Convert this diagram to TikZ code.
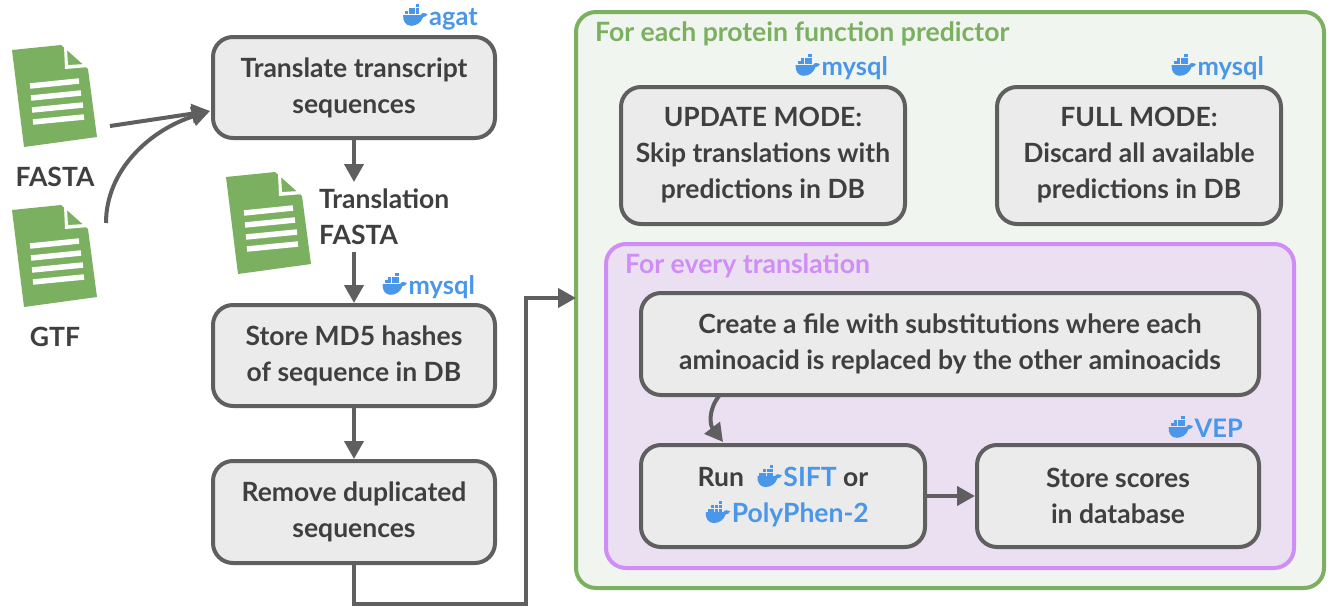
\documentclass[tikz,border=0pt]{standalone}
\usepackage{fontspec}
\setmainfont{Lato}
\usetikzlibrary{arrows.meta}
\definecolor{boxfill}{HTML}{EBEBEB}
\definecolor{boxline}{HTML}{5F5F5F}
\definecolor{txt}{HTML}{3F3F3F}
\definecolor{dblue}{HTML}{4A96E8}
\definecolor{gline}{HTML}{7AB060}
\definecolor{gbg}{HTML}{F1F5EF}
\definecolor{pline}{HTML}{CF8DF5}
\definecolor{pbg}{HTML}{EAE0F2}
\newcommand{\whale}{\tikz[x=1pt,y=1pt,baseline=0pt,line width=0pt,sharp corners]{%
 \fill[dblue] (0,10) -- (17.5,10) .. controls (18.5,12.5) and (22,12.5) .. (24.5,11) .. controls (23.5,8.5) and (21.5,8) .. (20,8)
   .. controls (18,2) and (13,-0.8) .. (8,-0.8) .. controls (2.5,-0.8) and (-0.5,4) .. (0,10) -- cycle;
 \foreach \a/\b in {2/10.6,5.6/10.6,9.2/10.6,12.8/10.6,5.6/14.2,9.2/14.2,12.8/14.2,12.8/17.8}
   \fill[dblue] (\a,\b) rectangle ++(3.1,3.1);
}\hspace{1.5pt}}
\newcommand{\dk}[1]{\whale{\color{dblue}#1}}
\tikzset{
 every node/.style={font=\fontsize{26.5}{36}\selectfont\bfseries, text=txt, align=center, inner sep=0pt},
 procbox/.style={draw=boxline, fill=boxfill, line width=4pt, rounded corners=20pt, minimum width=#1, anchor=north west},
 procbox/.default=282pt,
 flow/.style={draw=boxline, line width=4pt, -{Triangle[length=18pt,width=19pt]}},
 tag/.style={font=\fontsize{25.5}{28}\selectfont\bfseries, anchor=base east},
 grouptitle/.style={font=\fontsize{26.6}{28}\selectfont\bfseries, anchor=base west},
 pics/docicon/.style={code={
  \fill[gline] (12,50) -- (61,45) -- (88,69) -- (97,137) -- (24,147) -- cycle;
  \fill[white] (64,46) -- (65,69) -- (89,67) -- (86,64) -- (68,65) -- (67,49) -- cycle;
  \draw[white,line width=5.5pt] (30,86) -- (79,81) (31,98) -- (81,93) (32,110) -- (83,105) (33,122) -- (84,117);
 }}
}
\begin{document}
\begin{tikzpicture}[x=1pt,y=-1pt]
\useasboundingbox (0,0) rectangle (1328,608);
\fill[white] (0,0) rectangle (1328,608);
% groups
\draw[draw=gline,fill=gbg,line width=4pt,rounded corners=20pt] (576,12) rectangle (1324,588);
\draw[draw=pline,fill=pbg,line width=4pt,rounded corners=20pt] (606,244) rectangle (1294,568);
\node (gtitle) [grouptitle,text=gline] at (595,41) {For each protein function predictor};
\node (ptitle) [grouptitle,text=pline] at (625,273) {For every translation};
% documents
\pic at (0,0) {docicon};
\pic at (0,160) {docicon};
\pic at (214,127) {docicon};
\node (fasta) at (55,177) {FASTA};
\node (gtf) at (55,337) {GTF};
\node (tfasta) [align=left,anchor=west] at (319,217) {Translation\\FASTA};
% boxes
\node (translate) [procbox,minimum height=101pt] at (211,35) {Translate transcript\\sequences};
\node (md5) [procbox,minimum height=101pt] at (211,303) {Store MD5 hashes\\of sequence in DB};
\node (dedup) [procbox,minimum height=102pt] at (211,459) {Remove duplicated\\sequences};
\node (update) [procbox=284pt,minimum height=137pt] at (619,85) {UPDATE MODE:\\Skip translations with\\predictions in DB};
\node (full) [procbox=284pt,minimum height=137pt] at (995,85) {FULL MODE:\\Discard all available\\predictions in DB};
\node (create) [procbox=618pt,minimum height=102pt] at (639,291) {Create a file with substitutions where each\\aminoacid is replaced by the other aminoacids};
\node (run) [procbox=284pt,minimum height=102pt] at (639,443) {Run \ \dk{SIFT} or\\\hspace*{8pt}\dk{PolyPhen-2}};
\node (scores) [procbox=282pt,minimum height=102pt] at (975,443) {Store scores\\in database};
% tags
\node (tagagat) [tag] at (478,25) {\dk{agat}};
\node (tagmysqla) [tag] at (475,294) {\dk{mysql}};
\node (tagmysqlb) [tag] at (888,75) {\dk{mysql}};
\node (tagmysqlc) [tag] at (1264,75) {\dk{mysql}};
\node (tagvep) [tag] at (1243,437) {\dk{VEP}};
% free ends
\coordinate (fastaout) at (110,126);
\coordinate (gtfout) at (106,223);
\coordinate (tin) at (354,182);
\coordinate (tout) at (354,252);
\coordinate (bend1) at (354,604);
\coordinate (bend2) at (526,604);
\coordinate (bend3) at (526,298);
\coordinate (gin) at (576,298);
\coordinate (cout) at (719,396);
\coordinate (rin) at (723,442);
\coordinate (arrive) at (210,111);
% connectors
\draw[flow] (fastaout) -- (arrive);
\draw[flow] (gtfout) .. controls (106,170) and (150,130) .. (arrive);
\draw[flow] (translate.south) -- (tin);
\draw[flow] (tout) -- (md5.north);
\draw[flow] (md5.south) -- (dedup.north);
\draw[flow] (dedup.south) -- (bend1) -- (bend2) -- (bend3) -- (gin);
\draw[flow] (cout) .. controls (708,410) and (710,425) .. (rin);
\draw[flow] (run.east) -- (scores.west);
\end{tikzpicture}
\end{document}
